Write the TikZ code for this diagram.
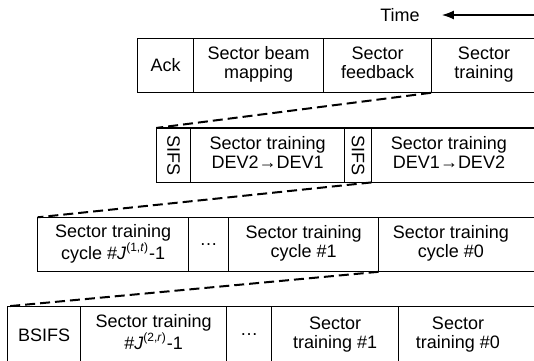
\documentclass[tikz,border=0pt]{standalone}
\usepackage{fontspec}
\setmainfont{Liberation Sans}
\usepackage{graphicx}
\usetikzlibrary{positioning}
\usetikzlibrary{matrix}
\usetikzlibrary{arrows.meta}

\newcommand{\twolines}[2]{\begin{tabular}{@{}c@{}}#1\\#2\end{tabular}}

\tikzset{
  slots/.style={matrix of nodes
    , nodes={ minimum height = 27.25pt
            , outer sep = 0pt
            , inner xsep = 1pt
            , inner ysep = 2pt
            , anchor = north
            }
    , column sep=-\pgflinewidth % collapse borders
    , inner sep=0pt
    , outer sep=0pt
    , anchor=north west},
  slot/.style={draw, minimum width=#1},
  openslot/.style={minimum width=#1},
  gap/.style={line width=1pt, dash pattern=on 5pt off 2.5pt}
}

\begin{document}
\begin{tikzpicture}[x=0.5pt, y=-0.5pt, line width=0.6pt, font=\fontsize{9}{9.5}\selectfont]

  \useasboundingbox (0,0) rectangle (534,360);
  \clip (0,0) rectangle (534,360);
  \coordinate (edge) at (545,0);

  \node (time) at (400,15) {Time};
  \coordinate (tstart) at (545,15);
  \draw [-{Latex[length=6pt,width=4.5pt]}, shorten >=7.5pt] (tstart) -- (time.east);

  \matrix (row1) at (137,37.7) [slots]
  {
    |(ack)[slot=28pt]| Ack &
      |(beam)[slot=65pt]| \twolines{Sector beam}{mapping} &
      |(fb)[slot=54pt]| \twolines{Sector}{feedback} &
      |(tr)[openslot=53pt]| \twolines{Sector}{training} \\
  };

  \matrix (row2) at (156,127.3) [slots]
  {
    |(sifsA)[slot=17pt]| \rotatebox{-90}{SIFS} &
      |(st21)[slot=77pt]| \twolines{Sector training}{DEV2→DEV1} &
      |(sifsB)[slot=13.5pt]| \rotatebox{-90}{SIFS} &
      |(st12)[openslot=78pt]| \twolines{Sector training}{DEV1→DEV2} \\
  };

  \matrix (row3) at (37,216.7) [slots]
  {
    |(cyJ)[slot=75.5pt]| \twolines{Sector training}{cycle \#\textit{J}\textsuperscript{(1,\textit{t})}-1} &
      |(dotsA)[slot=20pt]| \dots &
      |(cy1)[slot=75pt]| \twolines{Sector training}{cycle \#1} &
      |(cy0)[openslot=73pt]| \twolines{Sector training}{cycle \#0} \\
  };

  \matrix (row4) at (7,305.7) [slots, nodes={minimum height=28.5pt}]
  {
    |(bsifs)[slot=36.5pt]| BSIFS &
      |(trJ)[slot=73pt]| \twolines{Sector training}{\#\textit{J}\textsuperscript{(2,\textit{r})}-1} &
      |(dotsB)[slot=22.5pt]| \dots &
      |(tr1)[slot=63.5pt]| \twolines{Sector}{training \#1} &
      |(tr0)[openslot=60pt]| \twolines{Sector}{training \#0} \\
  };

  % open ends on the right
  \foreach \c in {tr, st12, cy0, tr0} {
    \draw (\c.north west) -- (\c.north west -| edge);
    \draw (\c.south west) -- (\c.south west -| edge);
  }

  \draw [gap] (tr.south west) to (sifsA.north west);
  \draw [gap] (sifsB.south east) to (cyJ.north west);
  \draw [gap] (cy1.south east) to (bsifs.north west);

\end{tikzpicture}
\end{document}
